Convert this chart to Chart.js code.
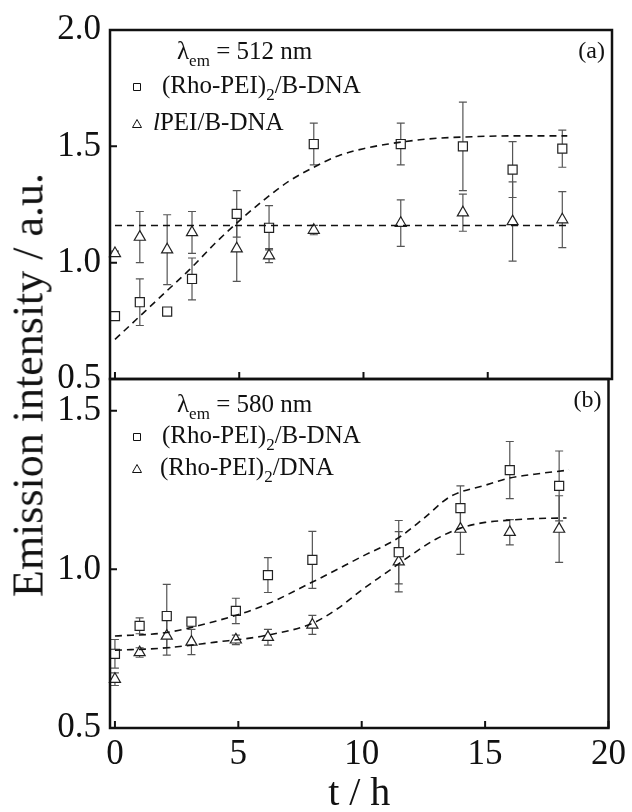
<!DOCTYPE html>
<html>
<head>
<meta charset="utf-8">
<script src="https://cdn.jsdelivr.net/npm/chart.js@4"></script>
<style>
  body { margin: 0; background: #fff; }
  #wrap { position: relative; width: 632px; height: 812px; overflow: hidden; }
  canvas { position: absolute; left: 0; }
  #ytitle {
    position: absolute; left: 28px; top: 385px;
    transform: translate(-50%, -50%) rotate(-90deg);
    white-space: nowrap; color: #111;
    font: 44px 'Liberation Serif', 'Times New Roman', serif;
  }
</style>
</head>
<body>
<div id="wrap">
  <canvas id="panelA" width="632" height="400" style="top:0"></canvas>
  <canvas id="panelB" width="632" height="452" style="top:360px"></canvas>
  <div id="ytitle">Emission intensity / a.u.</div>
</div>
<script>
// tick labels
const xTicks = [0, 5, 10, 15, 20];
const yTicksA = [0.5, 1.0, 1.5, 2.0];
const yTicksB = [0.5, 1.0, 1.5];

// sampling times (h)
const hours = [0, 1, 2.1, 3.1, 4.9, 6.2, 8, 11.5, 14, 16, 18];

// (a) lambda_em = 512 nm
const rhoBdnaA = [0.77, 0.83, 0.79, 0.93, 1.21, 1.15, 1.51, 1.51, 1.50, 1.40, 1.49];
const rhoBdnaErrA = [0, 0.10, 0, 0.09, 0.10, 0.095, 0.09, 0.09, 0.19, 0.12, 0.08];
const lpeiBdnaA = [1.04, 1.11, 1.056, 1.13, 1.06, 1.03, 1.14, 1.17, 1.215, 1.177, 1.185];
const lpeiBdnaErrA = [0.01, 0.11, 0.15, 0.09, 0.14, 0.03, 0.02, 0.10, 0.08, 0.17, 0.12];
const fitHoursA = [0, 1, 2, 3, 4, 5, 6, 7, 8, 9, 10, 11, 12, 13, 14, 16, 18.2];
const fitRhoA = [0.67, 0.77, 0.87, 0.97, 1.08, 1.18, 1.27, 1.35, 1.41, 1.46, 1.49, 1.51, 1.525, 1.535, 1.54, 1.545, 1.545];
const fitFlatHoursA = [0, 18.2];
const fitLpeiA = [1.16, 1.16];

// (b) lambda_em = 580 nm
const rhoBdnaB = [0.734, 0.822, 0.853, 0.835, 0.869, 0.982, 1.03, 1.054, 1.193, 1.313, 1.263];
const rhoBdnaErrB = [0.045, 0.025, 0.10, 0.01, 0.04, 0.055, 0.09, 0.10, 0.07, 0.09, 0.11];
const rhoDnaB = [0.654, 0.738, 0.79, 0.771, 0.778, 0.786, 0.825, 1.024, 1.127, 1.117, 1.127];
const rhoDnaErrB = [0.02, 0.015, 0.06, 0.04, 0.015, 0.025, 0.03, 0.095, 0.08, 0.04, 0.105];
const fitHoursB1 = [0, 2, 4, 6, 8, 10, 11.5, 12.5, 13.6, 15, 16, 17, 18.4];
const fitRhoBdnaB = [0.79, 0.80, 0.835, 0.885, 0.96, 1.04, 1.10, 1.16, 1.23, 1.265, 1.288, 1.30, 1.313];
const fitHoursB2 = [0, 2, 4, 6, 8, 9, 10, 11, 12, 13, 14, 15, 16, 17, 18.3];
const fitRhoDnaB = [0.745, 0.752, 0.77, 0.79, 0.83, 0.875, 0.935, 0.99, 1.045, 1.095, 1.13, 1.148, 1.155, 1.16, 1.162];

const serif = "'Liberation Serif', 'Times New Roman', serif";
const ink = '#111';

function pts(xs, ys) {
  return xs.map((x, i) => ({ x: x, y: ys[i] }));
}

function markers(data, errors, style) {
  return {
    data: data, errors: errors, pointStyle: style, pointRadius: 6.4,
    borderColor: '#222', backgroundColor: '#fff', borderWidth: 1.2,
    showLine: false, clip: false, order: 1
  };
}

function fitLine(data) {
  return {
    type: 'line', data: data, borderColor: ink, borderWidth: 1.6,
    borderDash: [7, 5], pointRadius: 0, tension: 0.4,
    cubicInterpolationMode: 'monotone', fill: false, order: 0
  };
}

// vertical error bars, drawn behind the markers
const errorBars = {
  id: 'errorBars',
  beforeDatasetsDraw(chart) {
    const ctx = chart.ctx, ys = chart.scales.y;
    ctx.save();
    ctx.strokeStyle = '#555';
    ctx.lineWidth = 1.2;
    chart.data.datasets.forEach((ds, di) => {
      if (!ds.errors) return;
      chart.getDatasetMeta(di).data.forEach((pt, i) => {
        const e = ds.errors[i];
        if (!e) return;
        const v = ds.data[i].y;
        const top = ys.getPixelForValue(v + e), bot = ys.getPixelForValue(v - e);
        ctx.beginPath();
        ctx.moveTo(pt.x, top); ctx.lineTo(pt.x, bot);
        ctx.moveTo(pt.x - 4, top); ctx.lineTo(pt.x + 4, top);
        ctx.moveTo(pt.x - 4, bot); ctx.lineTo(pt.x + 4, bot);
        ctx.stroke();
      });
    });
    ctx.restore();
  }
};

// text with subscripts / italics
function richText(ctx, parts, x, y, size) {
  parts.forEach(p => {
    const s = p.sub ? size * 0.68 : size;
    ctx.font = (p.it ? 'italic ' : '') + s + 'px ' + serif;
    ctx.fillText(p.t, x, y + (p.sub ? size * 0.28 : 0));
    x += ctx.measureText(p.t).width;
  });
}

function drawMarker(ctx, style, x, y) {
  ctx.beginPath();
  if (style === 'rect') {
    ctx.rect(x - 3.5, y - 3.5, 7, 7);
  } else {
    ctx.moveTo(x, y - 4.5); ctx.lineTo(x + 4.5, y + 3.5); ctx.lineTo(x - 4.5, y + 3.5); ctx.closePath();
  }
  ctx.stroke();
}

function decor(cfg) {
  return {
    id: 'decor',
    afterDraw(chart) {
      const ctx = chart.ctx, a = chart.chartArea;
      const xs = chart.scales.x, ys = chart.scales.y;
      ctx.save();
      ctx.strokeStyle = ink;
      ctx.lineWidth = 2.5;
      ctx.strokeRect(a.left, a.top, a.right - a.left, a.bottom - a.top);
      // inward tick marks
      ctx.lineWidth = 2;
      ctx.beginPath();
      xTicks.forEach(v => {
        const px = xs.getPixelForValue(v);
        ctx.moveTo(px, a.bottom); ctx.lineTo(px, a.bottom - 7);
      });
      cfg.yTicks.forEach(v => {
        const py = ys.getPixelForValue(v);
        ctx.moveTo(a.left, py); ctx.lineTo(a.left + 7, py);
      });
      ctx.stroke();
      // legend and panel label
      ctx.fillStyle = ink;
      ctx.textBaseline = 'alphabetic';
      ctx.textAlign = 'left';
      richText(ctx, cfg.head, a.left + 67, a.top + cfg.headY, 25);
      ctx.lineWidth = 1;
      cfg.items.forEach(it => {
        drawMarker(ctx, it.style, a.left + 27, a.top + it.y - 6);
        richText(ctx, it.parts, a.left + it.dx, a.top + it.y, 25);
      });
      ctx.textAlign = 'right';
      ctx.font = '24px ' + serif;
      ctx.fillText(cfg.label, a.right - 7, a.top + 28);
      ctx.restore();
    }
  };
}

function yScale(min, max, ticks) {
  return {
    type: 'linear', min: min, max: max,
    afterFit: s => { s.width = 110; },
    afterBuildTicks: s => { s.ticks = ticks.map(v => ({ value: v })); },
    ticks: { padding: 9, color: ink, font: { family: serif, size: 35, lineHeight: 0.5 }, callback: v => v.toFixed(1) },
    grid: { display: false, drawTicks: false },
    border: { display: false }
  };
}

new Chart(document.getElementById('panelA'), {
  type: 'scatter',
  data: {
    datasets: [
      markers(pts(hours, rhoBdnaA), rhoBdnaErrA, 'rect'),
      markers(pts(hours, lpeiBdnaA), lpeiBdnaErrA, 'triangle'),
      fitLine(pts(fitHoursA, fitRhoA)),
      fitLine(pts(fitFlatHoursA, fitLpeiA))
    ]
  },
  options: {
    responsive: false, animation: false,
    layout: { padding: { top: 30, right: 20, left: 0, bottom: 0 } },
    plugins: { legend: { display: false }, tooltip: { enabled: false } },
    scales: {
      x: {
        type: 'linear', min: -0.2, max: 20,
        afterFit: s => { s.height = 21; },
        ticks: { display: false },
        grid: { display: false, drawTicks: false },
        border: { display: false }
      },
      y: yScale(0.5, 2.0, yTicksA)
    }
  },
  plugins: [errorBars, decor({
    yTicks: yTicksA, label: '(a)', headY: 29,
    head: [{ t: 'λ' }, { t: 'em', sub: true }, { t: ' = 512 nm' }],
    items: [
      { style: 'rect', y: 63, dx: 52, parts: [{ t: '(Rho-PEI)' }, { t: '2', sub: true }, { t: '/B-DNA' }] },
      { style: 'triangle', y: 100, dx: 43, parts: [{ t: 'l', it: true }, { t: 'PEI/B-DNA' }] }
    ]
  })]
});

new Chart(document.getElementById('panelB'), {
  type: 'scatter',
  data: {
    datasets: [
      markers(pts(hours, rhoBdnaB), rhoBdnaErrB, 'rect'),
      markers(pts(hours, rhoDnaB), rhoDnaErrB, 'triangle'),
      fitLine(pts(fitHoursB1, fitRhoBdnaB)),
      fitLine(pts(fitHoursB2, fitRhoDnaB))
    ]
  },
  options: {
    responsive: false, animation: false,
    layout: { padding: { top: 19, right: 20, left: 0, bottom: 0 } },
    plugins: { legend: { display: false }, tooltip: { enabled: false } },
    scales: {
      x: {
        type: 'linear', min: -0.2, max: 20,
        afterFit: s => { s.height = 84; },
        afterBuildTicks: s => { s.ticks = xTicks.map(v => ({ value: v })); },
        ticks: { padding: 6, color: ink, font: { family: serif, size: 35 } },
        grid: { display: false, drawTicks: false },
        border: { display: false },
        title: {
          display: true, text: 't / h', color: ink,
          font: { family: serif, size: 40, lineHeight: 0.9 },
          padding: { top: 0, bottom: 0 }
        }
      },
      y: yScale(0.5, 1.6, yTicksB)
    }
  },
  plugins: [errorBars, decor({
    yTicks: yTicksB, label: '(b)', headY: 33,
    head: [{ t: 'λ' }, { t: 'em', sub: true }, { t: ' = 580 nm' }],
    items: [
      { style: 'rect', y: 64, dx: 52, parts: [{ t: '(Rho-PEI)' }, { t: '2', sub: true }, { t: '/B-DNA' }] },
      { style: 'triangle', y: 96, dx: 50, parts: [{ t: '(Rho-PEI)' }, { t: '2', sub: true }, { t: '/DNA' }] }
    ]
  })]
});
</script>
</body>
</html>
